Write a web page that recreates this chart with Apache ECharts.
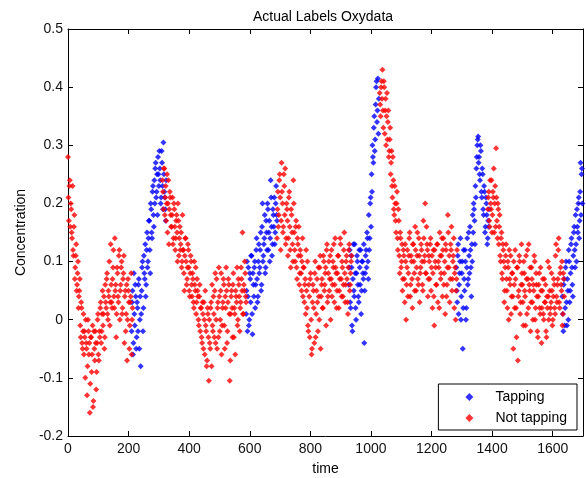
<!DOCTYPE html>
<html><head><meta charset="utf-8">
<script src="https://cdn.jsdelivr.net/npm/echarts@6/dist/echarts.min.js"></script>
<style>html,body{margin:0;padding:0;background:#fff}#c{width:586px;height:478px}</style>
</head><body><div id="c"></div>
<script>
// time step between samples; "b" arrays are sampled half a step later
const step = 3;
const tapStarts = [210, 588, 927, 1282, 1632];
const notStarts = [0, 312, 690, 1029, 1386];

// Tapping segments (Concentration)
const tap1 = [-0.02,0.05,-0.04,0.01,0.06,-0.05,0.03,-0.02,0.07,0.00,-0.08,0.05,0.10,0.02,0.08,0.13,0.06,0.15,0.10,0.17,0.12,0.20,0.15,0.22,0.18,0.24,0.26,0.21,0.25,0.28,0.23,0.26,0.20,0.29,0.23,0.305,0.22,0.19,0.24];
const tap2 = [0.01,0.10,0.04,-0.01,0.08,0.03,0.11,-0.025,0.06,0.09,0.02,0.12,0.07,0.04,0.13,0.09,0.15,0.06,0.20,0.11,0.14,0.08,0.17,0.12,0.19,0.15,0.10,0.24,0.16,0.13,0.18,0.21,0.15,0.23,0.17];
const tap3 = [0.06,0.12,0.02,0.09,-0.02,0.13,0.04,0.08,0.00,0.11,0.06,0.03,0.09,0.12,0.05,0.10,0.07,-0.04,0.08,0.12,0.15,0.10,0.18,0.14,0.21,0.25,0.30,0.27,0.35,0.31,0.40,0.34,0.415,0.38];
const tap4 = [0.09,0.03,0.13,0.06,0.10,0.00,0.08,-0.05,0.12,0.05,0.10,0.02,0.14,0.07,0.11,0.16,0.09,0.13,0.18,0.20,0.17,0.23,0.26,0.30,0.315,0.28,0.24,0.29,0.21,0.25,0.18,0.22,0.16,0.20,0.13,0.17,0.19];
const tap5 = [0.04,-0.02,0.07,0.02,0.10,-0.01,0.05,0.12,0.03,0.08,0.14,0.06,0.11,0.16,0.09,0.13,0.19,0.15,0.21,0.17,0.27,0.25,0.20];
const tap1b = [0.03,-0.06,0.08,-0.01,0.04,-0.03,0.02,0.06,-0.05,0.04,0.01,0.09,-0.02,0.11,0.07,0.04,0.12,0.09,0.14,0.17,0.08,0.19,0.14,0.23,0.16,0.20,0.27,0.22,0.18,0.25,0.29,0.24,0.21,0.27,0.19,0.25,0.21,0.17];
const tap2b = [0.05,-0.02,0.09,0.00,0.07,0.11,0.01,0.08,0.04,0.10,0.06,0.14,0.03,0.10,0.08,0.12,0.05,0.16,0.10,0.13,0.18,0.09,0.15,0.20,0.12,0.17,0.14,0.21,0.11,0.19,0.16,0.13,0.20,0.18];
const tap3b = [0.09,0.03,0.11,-0.01,0.07,0.05,0.13,0.02,0.08,0.10,0.04,0.12,0.06,0.01,0.10,0.08,0.13,0.05,0.11,0.09,0.14,0.07,0.12,0.20,0.16,0.22,0.28,0.33,0.29,0.37,0.41,0.36,0.32];
const tap4b = [0.05,0.11,0.01,0.08,0.14,0.04,0.10,0.02,0.07,0.12,0.00,0.09,0.06,0.15,0.08,0.12,0.04,0.10,0.15,0.19,0.13,0.21,0.28,0.31,0.27,0.25,0.30,0.22,0.26,0.19,0.23,0.15,0.21,0.18,0.14,0.16];
const tap5b = [0.01,0.06,-0.01,0.09,0.03,0.07,0.00,0.10,0.05,0.13,0.09,0.04,0.15,0.12,0.18,0.10,0.16,0.20,0.14,0.22,0.18,0.26];

// Not tapping segments (Concentration)
const not1 = [0.28,0.17,0.24,0.20,0.15,0.23,0.11,0.18,0.09,0.13,0.06,0.10,0.04,0.07,-0.03,0.02,-0.05,0.01,-0.02,-0.10,-0.04,-0.13,0.00,-0.06,-0.16,-0.03,-0.09,-0.01,-0.14,-0.05,-0.02,-0.12,-0.04,0.01,-0.07,-0.03,0.03,-0.02,0.05,0.01,-0.05,0.06,0.02,0.08,0.00,0.04,-0.01,0.13,0.03,0.07,0.12,0.02,0.05,-0.03,0.09,0.04,0.11,0.00,0.06,0.10,0.02,0.08,-0.04,0.05,0.01,-0.07,0.07,0.03,-0.01,0.04,-0.06,0.02];
const not2 = [0.24,0.19,0.26,0.21,0.17,0.25,0.20,0.13,0.22,0.18,0.16,0.21,0.14,0.19,0.12,0.17,0.15,0.20,0.11,0.16,0.13,0.09,0.18,0.12,0.05,0.14,0.10,0.07,0.13,0.09,0.04,0.11,0.06,0.08,0.03,0.10,0.05,0.01,0.07,0.04,-0.01,0.06,0.02,-0.03,0.03,-0.05,0.00,0.05,-0.02,-0.07,0.01,-0.105,-0.04,0.02,-0.08,-0.01,0.04,-0.03,0.08,0.00,-0.05,0.03,0.09,-0.02,0.05,-0.06,0.02,0.07,-0.01,0.04,0.09,-0.04,0.03,0.06,-0.105,0.01,0.05,-0.03,0.08,0.02,-0.06,0.04,0.09,0.00,0.06,-0.02,0.03,0.07,0.15,0.01,0.05,0.08,0.03];
const not3 = [0.14,0.22,0.18,0.25,0.12,0.27,0.20,0.16,0.23,0.26,0.14,0.19,0.11,0.21,0.16,0.09,0.18,0.13,0.24,0.15,0.10,0.17,0.07,0.13,0.16,0.08,0.11,0.05,0.14,0.09,0.03,0.07,0.12,0.02,-0.01,0.06,-0.03,0.08,-0.06,0.03,0.05,-0.04,0.10,0.01,0.07,-0.02,0.04,0.09,-0.05,0.06,0.02,0.11,0.05,0.08,-0.01,0.13,0.04,0.10,0.07,0.00,0.12,0.06,0.09,0.03,0.14,0.08,0.05,0.11,0.02,0.07,0.13,0.04,0.09,0.06,0.15,0.03,0.10,0.07,0.01,0.12,0.05,0.08,0.11];
const not4 = [0.39,0.35,0.41,0.43,0.33,0.40,0.36,0.30,0.39,0.34,0.28,0.31,0.25,0.29,0.21,0.24,0.18,0.20,0.15,0.22,0.12,0.17,0.08,0.14,0.10,0.05,0.12,0.07,0.13,0.00,0.09,0.04,0.11,0.15,0.06,0.10,0.02,0.13,0.08,0.16,0.05,0.11,0.07,0.14,0.03,0.09,0.12,0.06,0.17,0.10,0.20,0.08,0.13,0.04,0.11,0.07,0.14,0.09,0.02,0.12,-0.01,0.10,0.06,0.13,0.03,0.09,0.15,0.07,0.11,0.04,0.14,0.08,0.01,0.12,0.06,0.18,0.09,0.03,0.13,0.16,0.07,0.11,0.02,0.09,0.05,0.12];
const not5 = [0.19,0.22,0.16,0.20,0.24,0.18,0.21,0.15,0.23,0.295,0.17,0.20,0.13,0.18,0.10,0.15,0.07,0.12,0.03,0.09,0.13,0.05,0.10,0.00,0.07,0.11,0.04,0.08,-0.05,0.06,0.12,0.02,0.09,-0.07,0.05,0.10,0.03,0.13,0.06,-0.01,0.08,0.04,0.11,0.01,0.07,0.13,0.05,-0.02,0.09,0.03,0.06,0.11,0.00,0.08,0.04,-0.03,0.06,0.02,0.09,-0.04,0.05,0.01,0.07,0.03,-0.02,0.04,0.10,0.00,0.05,0.02,0.08,-0.01,0.04,0.06,0.01,0.13,0.03,0.07,0.14,0.02,0.09,0.05,-0.01,0.08,0.04];
const not1b = [0.21,0.23,0.16,0.19,0.14,0.12,0.16,0.07,0.11,0.05,0.08,0.02,0.05,-0.01,0.03,-0.04,-0.02,-0.06,-0.03,0.00,-0.05,-0.08,-0.02,-0.04,-0.11,-0.03,-0.06,-0.15,-0.02,-0.07,-0.04,-0.09,0.00,-0.06,-0.02,0.02,-0.04,0.01,-0.01,0.04,-0.03,0.03,0.07,0.01,0.05,0.10,0.03,0.06,0.02,0.09,0.04,0.14,0.06,0.01,0.08,0.03,0.12,0.05,0.09,0.01,0.07,0.11,0.04,-0.02,0.06,0.00,0.05,-0.05,0.03,0.08,0.00];
const not2b = [0.22,0.26,0.18,0.23,0.20,0.15,0.24,0.19,0.21,0.16,0.18,0.13,0.20,0.16,0.14,0.18,0.10,0.17,0.14,0.12,0.15,0.10,0.12,0.08,0.11,0.14,0.06,0.09,0.12,0.05,0.08,0.10,0.04,0.07,0.02,0.06,0.09,0.03,0.05,0.00,0.04,-0.02,0.02,-0.04,0.01,0.03,-0.06,-0.01,-0.08,0.02,-0.03,0.00,-0.05,0.03,0.06,-0.02,0.01,0.05,-0.04,0.07,0.02,-0.03,0.04,0.00,0.08,-0.01,0.03,0.06,-0.05,0.02,0.05,-0.02,0.07,0.01,-0.07,0.04,0.02,0.06,-0.03,0.01,0.05,0.03,-0.01,0.07,0.04,0.02,0.09,0.05,0.01,0.06,0.10,0.04];
const not3b = [0.19,0.16,0.24,0.21,0.17,0.22,0.15,0.25,0.18,0.13,0.20,0.17,0.14,0.22,0.12,0.19,0.15,0.10,0.20,0.12,0.16,0.09,0.14,0.11,0.06,0.12,0.08,0.10,0.04,0.09,0.06,0.01,0.05,0.10,-0.02,0.04,0.07,0.00,-0.05,0.06,0.02,0.08,-0.03,0.05,0.03,0.09,0.00,0.11,0.04,0.07,0.02,0.10,0.06,0.09,0.12,0.03,0.08,0.05,0.11,0.07,0.04,0.10,0.13,0.06,0.09,0.02,0.08,0.11,0.05,0.14,0.07,0.10,0.04,0.12,0.08,0.06,0.11,0.03,0.09,0.13,0.06,0.10];
const not4b = [0.37,0.40,0.38,0.36,0.41,0.32,0.38,0.35,0.31,0.36,0.29,0.33,0.27,0.23,0.28,0.19,0.23,0.17,0.20,0.14,0.19,0.11,0.15,0.09,0.13,0.07,0.11,0.03,0.10,0.06,0.12,0.08,0.14,0.04,0.11,0.07,0.13,0.10,0.05,0.12,0.09,0.15,0.06,0.11,0.08,0.13,0.10,0.05,0.14,0.11,0.08,0.16,0.12,0.07,0.10,0.13,0.05,0.11,0.08,0.04,0.12,0.09,0.06,0.13,0.10,0.02,0.11,0.08,0.14,0.12,0.06,0.10,0.13,0.04,0.09,0.15,0.11,0.07,0.12,0.05,0.10,0.14,0.08,0.00,0.07];
const not5b = [0.21,0.17,0.24,0.19,0.15,0.22,0.26,0.20,0.16,0.21,0.14,0.19,0.16,0.11,0.14,0.08,0.13,0.10,0.05,0.11,0.07,0.02,0.09,0.12,0.06,0.01,0.08,0.04,0.10,0.02,0.07,-0.03,0.09,0.04,0.11,0.01,0.06,0.08,0.03,0.10,0.05,-0.01,0.07,0.12,0.02,0.06,0.09,0.03,0.07,0.00,0.05,0.10,0.02,0.06,-0.02,0.04,0.08,0.01,0.05,0.02,0.07,0.00,0.03,0.06,-0.03,0.02,0.04,0.09,0.01,0.03,0.05,0.00,0.07,0.02,0.11,0.04,0.06,0.12,0.03,0.08,0.06,0.10,0.01,0.07];

const tapSegs = [tap1, tap2, tap3, tap4, tap5];
const tapSegsB = [tap1b, tap2b, tap3b, tap4b, tap5b];
const notSegs = [not1, not2, not3, not4, not5];
const notSegsB = [not1b, not2b, not3b, not4b, not5b];

const xTicks = [0, 200, 400, 600, 800, 1000, 1200, 1400, 1600];

function toPoints(starts, segs, offset) {
  const out = [];
  segs.forEach((seg, k) => seg.forEach((v, i) => out.push([starts[k] + offset + i * step, v])));
  return out;
}
const tapData = toPoints(tapStarts, tapSegs, 0).concat(toPoints(tapStarts, tapSegsB, step / 2));
const notData = toPoints(notStarts, notSegs, 0).concat(toPoints(notStarts, notSegsB, step / 2));

const font = 'Liberation Sans, Arial, Helvetica, sans-serif';
const chart = echarts.init(document.getElementById('c'), null, {renderer: 'canvas'});
const axisCommon = {
  axisLine: {show: true, onZero: false, lineStyle: {color: '#000', width: 1}},
  axisTick: {show: true, inside: true, length: 5, lineStyle: {color: '#000'}},
  splitLine: {show: false}
};
chart.setOption({
  animation: false,
  backgroundColor: '#fff',
  title: {text: 'Actual Labels Oxydata', left: 248, top: 5,
    textStyle: {fontFamily: font, fontSize: 14, fontWeight: 'normal', color: '#000'}},
  grid: {left: 68, right: 3, top: 29, bottom: 42, containLabel: false, outerBoundsMode: 'none'},
  legend: {
    orient: 'vertical', right: 9, bottom: 48,
    backgroundColor: '#fff', borderColor: '#000', borderWidth: 1,
    padding: [6, 10, 5, 27], itemGap: 7, itemWidth: 8, itemHeight: 8, itemTextGap: 5,
    textStyle: {fontFamily: font, fontSize: 14, color: '#000', lineHeight: 14, padding: [0, 0, 0, 17]},
    data: [{name: 'Tapping', icon: 'diamond'}, {name: 'Not tapping', icon: 'diamond'}]
  },
  xAxis: [
    Object.assign({}, axisCommon, {type: 'value', min: 0, max: 1700, interval: 200, position: 'bottom',
      name: 'time', nameLocation: 'middle', nameGap: 26,
      nameTextStyle: {fontFamily: font, fontSize: 14, color: '#000'},
      axisLabel: {fontFamily: font, fontSize: 14, color: '#111', margin: 6,
        formatter: v => (xTicks.indexOf(v) >= 0 ? String(v) : '')}}),
    Object.assign({}, axisCommon, {type: 'value', min: 0, max: 1700, interval: 200, position: 'top',
      axisLabel: {show: false}})
  ],
  yAxis: [
    Object.assign({}, axisCommon, {type: 'value', min: -0.2, max: 0.5, interval: 0.1, position: 'left',
      name: 'Concentration', nameLocation: 'middle', nameGap: 38,
      nameTextStyle: {fontFamily: font, fontSize: 14, color: '#000'},
      axisLabel: {fontFamily: font, fontSize: 14, color: '#111', margin: 5,
        formatter: v => String(Math.round(v * 10) / 10)}}),
    Object.assign({}, axisCommon, {type: 'value', min: -0.2, max: 0.5, interval: 0.1, position: 'right',
      axisLabel: {show: false}})
  ],
  series: [
    {name: 'Tapping', type: 'scatter', symbol: 'diamond', symbolSize: 6,
      itemStyle: {color: '#0000ff'}, data: tapData},
    {name: 'Not tapping', type: 'scatter', symbol: 'diamond', symbolSize: 6,
      itemStyle: {color: '#ff0000'}, data: notData}
  ]
});
</script></body></html>
